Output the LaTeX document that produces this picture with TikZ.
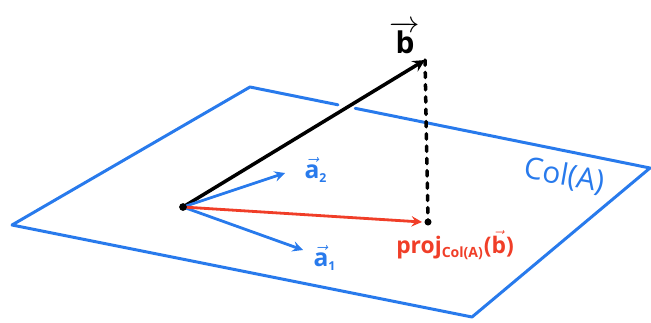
\documentclass[tikz,border=0pt]{standalone}
\usepackage{fontspec}
\setmainfont{Open Sans}
\usetikzlibrary{calc}
\definecolor{planeblue}{RGB}{40,122,236}
\definecolor{projred}{RGB}{240,62,40}
\begin{document}
\begin{tikzpicture}[x=0.02cm, y=-0.02cm, line join=round, line cap=round, >=stealth]
	\useasboundingbox (0,0) rectangle (651,322);
	\tikzset{plane/.style={planeblue, line width=1.7pt}, vecarrow/.style={->, line width=1.6pt}}
	% Mặt phẳng Col(A)
	\coordinate (TL) at (250,87); \coordinate (R) at (650,168);
	\coordinate (B) at (472,317); \coordinate (L) at (12,225);
	\coordinate (O) at (183,207); \coordinate (Bt) at (425,60);
	\coordinate (P) at (428,222);
	\draw[plane] ($(TL)!0.22!(R)$) -- (TL) -- (L) -- (B) -- (R) -- ($(TL)!0.263!(R)$);
	% Các vectơ
	\draw[vecarrow, black, line width=2pt] (O) -- (Bt);
	\draw[black, line width=2pt, dash pattern=on 3pt off 4pt] (Bt) -- (P);
	\draw[vecarrow, planeblue] (O) -- (285,173) coordinate (A2);
	\draw[vecarrow, planeblue] (O) -- (303,250) coordinate (A1);
	\draw[vecarrow, projred] (O) -- ($(P)+(-6,0)$) coordinate (Pe);
	\fill (O) circle (2.2pt);
	\fill (P) circle (2pt);
	% Nhãn
	\node[font=\bfseries\fontsize{17}{17}\selectfont] (lb) at (405,38) {$\overrightarrow{\mbox{b}}$};
	\node[planeblue, font=\bfseries\fontsize{14}{14}\selectfont] (la2) at (316,170) {$\vec{\mbox{a}}_{\mbox{\scriptsize\bfseries 2}}$};
	\node[planeblue, font=\bfseries\fontsize{14}{14}\selectfont] (la1) at (325,258) {$\vec{\mbox{a}}_{\mbox{\scriptsize\bfseries 1}}$};
	\node[planeblue, rotate=-10, font=\fontsize{17}{17}\selectfont] (lcol) at (564,176) {Col(A)};
	\node[projred, font=\bfseries\fontsize{13}{13}\selectfont] (lproj) at (455,245) {proj$_{\mbox{\footnotesize\bfseries Col(A)}}$($\vec{\mbox{b}}$)};
\end{tikzpicture}
\end{document}
